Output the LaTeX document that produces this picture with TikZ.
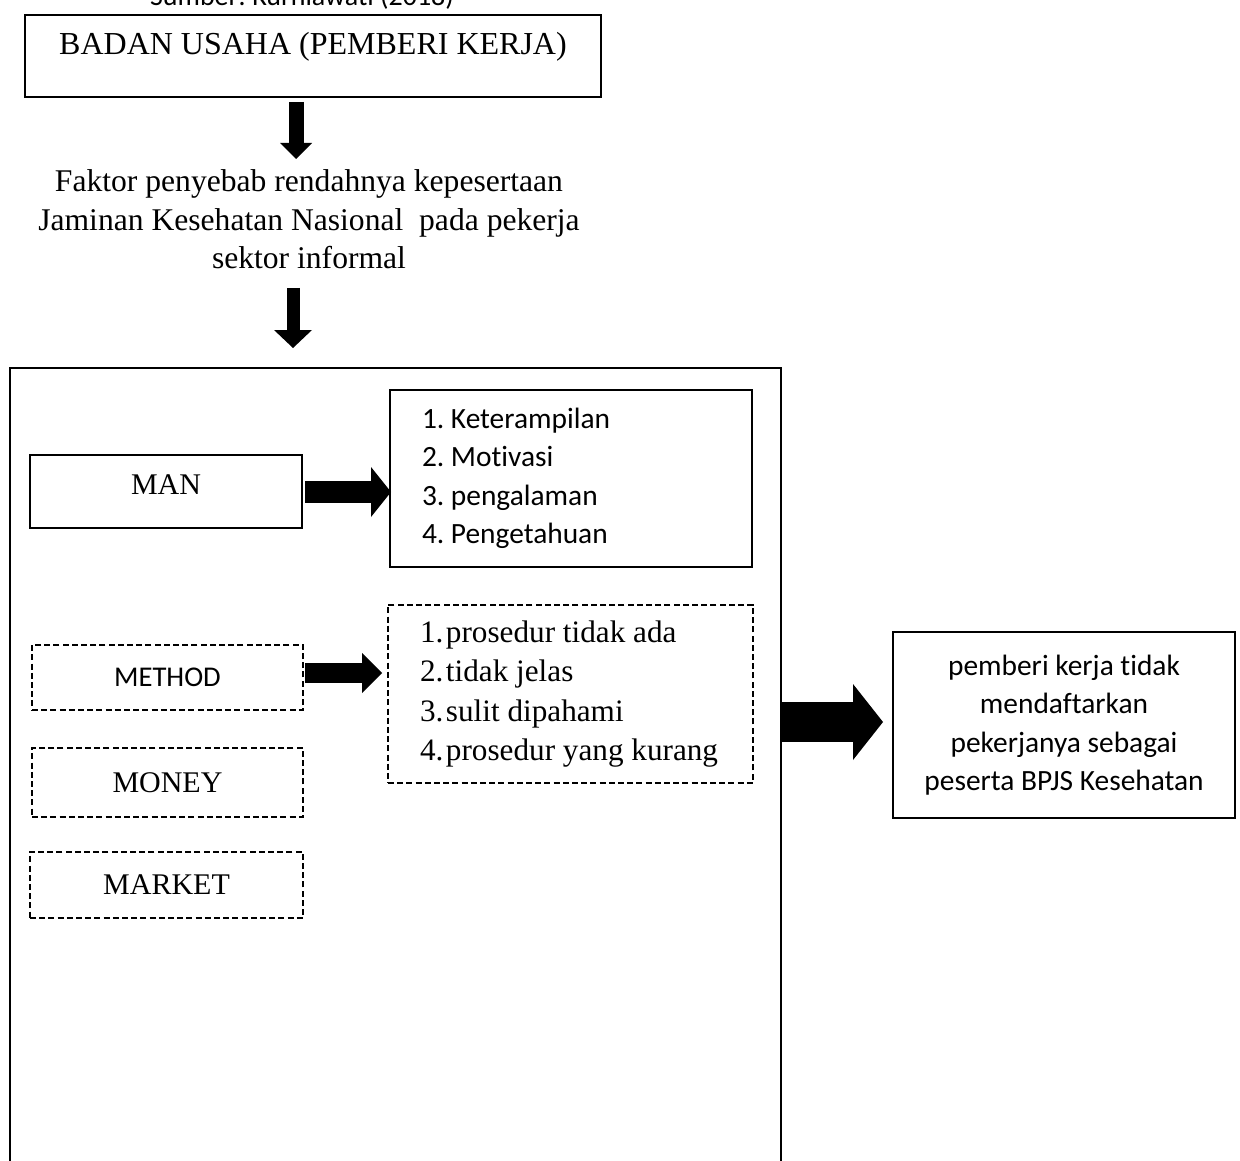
\documentclass[tikz,border=0pt]{standalone}
\usepackage{fontspec}
\setmainfont{Liberation Serif}
\newfontfamily\calibri[Ligatures=NoCommon]{Carlito}
\usetikzlibrary{arrows.meta}
\frenchspacing
\begin{document}
\begin{tikzpicture}[x=0.5pt,y=-0.5pt,
  box/.style={draw, line width=1.1pt, inner sep=0pt},
  dbox/.style={draw, line width=1pt, dash pattern=on 3pt off 1.6pt, inner sep=0pt},
  serifbig/.style={font=\fontsize{15}{19.25}\selectfont},
  sansbig/.style={font=\calibri\fontsize{14.7}{19.25}\selectfont},
  barrow/.style n args={3}{line width=#1, -{Triangle[width=#2, length=#3, line width=0pt]}},
]
\useasboundingbox (0,0) rectangle (1240,1160);

\node[font=\calibri\fontsize{14}{17}\selectfont, anchor=base] (src) at (302,6) {Sumber: Kurniawati (2018)};

\node[box, minimum width=288pt, minimum height=41pt, font=\fontsize{16}{19}\selectfont, text height=11pt, text depth=12pt] (badan) at (313,56) {BADAN USAHA (PEMBERI KERJA)};

\coordinate (a1s) at (296,102);
\coordinate (a1e) at (296,159);
\draw[barrow={7.5pt}{16pt}{8pt}] (a1s) -- (a1e);

\node[font=\fontsize{15.8}{19.25}\selectfont, align=center, inner sep=0pt] (faktor) at (309,219.5)
  {Faktor penyebab rendahnya kepesertaan\\Jaminan Kesehatan Nasional\ \ pada pekerja\\sektor informal};

\coordinate (a2s) at (293,288);
\coordinate (a2e) at (293,348);
\draw[barrow={6.5pt}{19pt}{9pt}] (a2s) -- (a2e);

\node[box, minimum width=385.5pt, minimum height=406pt] (big) at (395.5,774) {};

\node[box, minimum width=136pt, minimum height=36.5pt, serifbig, text depth=7pt] (man) at (166,491.5) {MAN};
\node[box, minimum width=181pt, minimum height=88.5pt, inner xsep=16pt, sansbig] (list1) at (571,478.5)
  {\makebox[149pt][l]{\begin{tabular}{@{}l@{}}1. Keterampilan\\2. Motivasi\\3. pengalaman\\4. Pengetahuan\end{tabular}}};
\coordinate (a3s) at (305,492);
\coordinate (a3e) at (391,492);
\draw[barrow={11pt}{25pt}{10pt}] (a3s) -- (a3e);

\node[dbox, minimum width=135.5pt, minimum height=32.5pt, font=\calibri\fontsize{14.3}{17}\selectfont] (method) at (167.5,677.5) {METHOD};
\node[dbox, minimum width=182.5pt, minimum height=89pt, inner xsep=16pt, font=\fontsize{15.6}{19.7}\selectfont] (list2) at (570.5,693.5)
  {\makebox[150.5pt][l]{\begin{tabular}{@{}l@{}}\makebox[13pt][l]{1.}prosedur tidak ada\\\makebox[13pt][l]{2.}tidak jelas\\\makebox[13pt][l]{3.}sulit dipahami\\\makebox[13pt][l]{4.}prosedur yang kurang\end{tabular}}};
\coordinate (a4s) at (305,673);
\coordinate (a4e) at (382,673);
\draw[barrow={10pt}{20pt}{10pt}] (a4s) -- (a4e);

\node[dbox, minimum width=135.5pt, minimum height=34.5pt, serifbig] (money) at (167.5,782.5) {MONEY};
\node[dbox, minimum width=136.5pt, minimum height=33pt, serifbig] (market) at (166.5,885) {MARKET};

\node[box, minimum width=171pt, minimum height=93pt, align=center, sansbig] (result) at (1064,725)
  {pemberi kerja tidak\\mendaftarkan\\pekerjanya sebagai\\peserta BPJS Kesehatan};
\coordinate (a5s) at (782,722);
\coordinate (a5e) at (883,722);
\draw[barrow={20pt}{38pt}{15pt}] (a5s) -- (a5e);
\end{tikzpicture}
\end{document}
